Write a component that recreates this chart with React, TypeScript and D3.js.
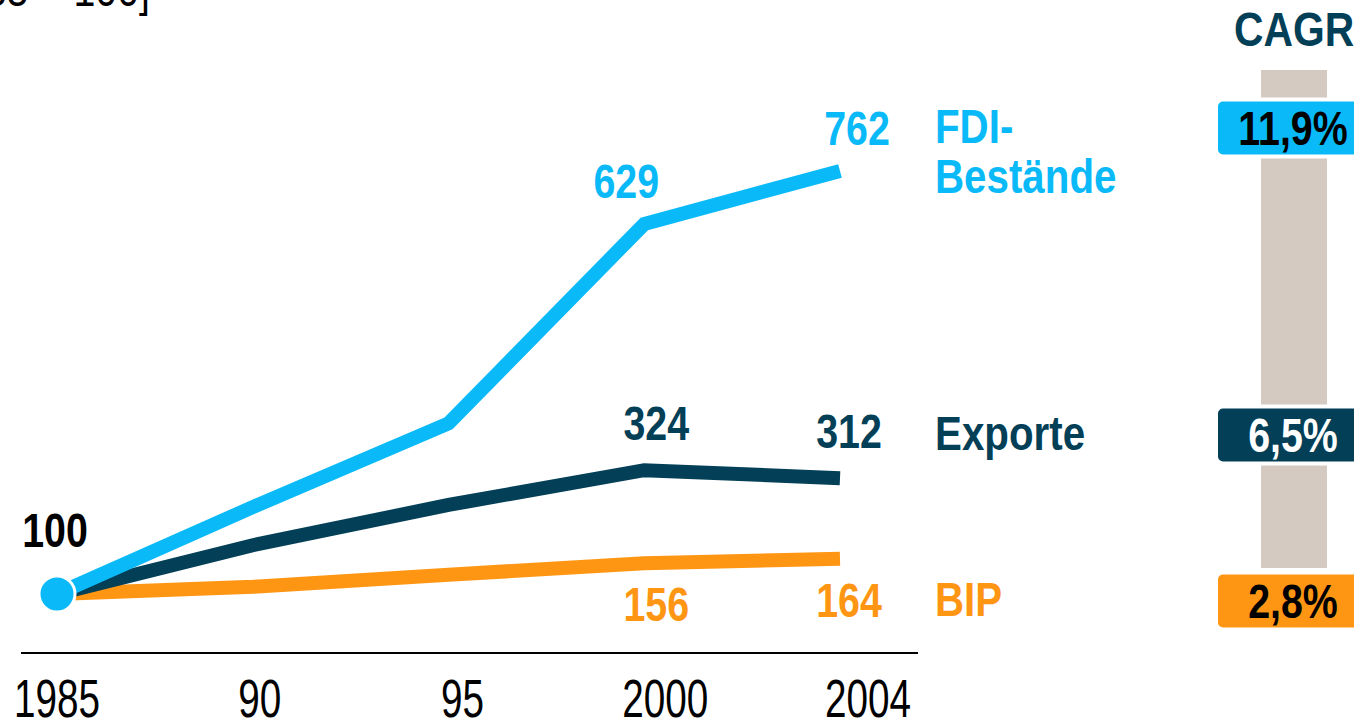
import React from "react";
import * as d3 from "d3";

// ---- data ----
const years = ["1985", "1990", "1995", "2000", "2004"];
const tickLabels = ["1985", "90", "95", "2000", "2004"];
const fdiValues = [100, 259, 382, 629, 762];
const exportValues = [100, 189, 263, 324, 312];
const bipValues = [100, 113, 135, 156, 164];
const seriesNames = ["FDI-\nBestände", "Exporte", "BIP"];
const cagrLabels = ["11,9%", "6,5%", "2,8%"];
const labelledYears = ["2000", "2004"];
const startValue = 100;
const titleText = "[1985 = 100]";
const cagrTitle = "CAGR";

const W = 1354;
const H = 723;
const FONT = "'Liberation Sans', Arial, sans-serif";

const colors = { fdi: "#0ABAF8", exp: "#033F57", bip: "#FE9614", bar: "#D5CAC2" };

type TxtProps = {
  x: number;
  y: number;
  sx?: number;
  size?: number;
  bold?: boolean;
  anchor?: "start" | "middle" | "end";
  fill?: string;
  children: React.ReactNode;
};

// condensed text: horizontally scaled around its anchor point
function Txt({ x, y, sx = 0.82, size = 48, bold = true, anchor = "start", fill = "#000", children }: TxtProps) {
  return (
    <text
      transform={`translate(${x},${y}) scale(${sx},1)`}
      fontSize={size}
      fontWeight={bold ? "bold" : "normal"}
      textAnchor={anchor}
      fill={fill}
    >
      {children}
    </text>
  );
}

export default function App() {
  // x scales: one for the lines, one for the axis labels
  const xLine = d3.scalePoint<string>().domain(years).range([57, 840]);
  const xTick = d3.scalePoint<string>().domain(years).range([57, 868]);
  // piecewise-linear (polylinear) value scale, as the original chart is not to scale
  const y = d3
    .scaleLinear()
    .domain([100, 160, 318, 629, 762])
    .range([594, 561, 475, 224, 171]);

  const line = d3
    .line<number>()
    .x((_, i) => xLine(years[i]) as number)
    .y((v) => y(v));

  const series = [
    { key: "bip", values: bipValues, color: colors.bip, name: seriesNames[2], cagr: cagrLabels[2], labelDy: 58, labelDx: [12, 9], rowY: 601, badgeText: "#000" },
    { key: "exp", values: exportValues, color: colors.exp, name: seriesNames[1], cagr: cagrLabels[1], labelDy: -30, labelDx: [12, 9], rowY: 435, badgeText: "#fff" },
    { key: "fdi", values: fdiValues, color: colors.fdi, name: seriesNames[0], cagr: cagrLabels[0], labelDy: -26, labelDx: [-18, 17], rowY: 128, badgeText: "#000" },
  ];

  const barX = 1261;
  const barW = 66;
  const badgeX = 1216;
  const badgeH = 57;

  return (
    <svg
      width={W}
      height={H}
      style={{ position: "absolute", left: 0, top: 0, background: "#fff" }}
      fontFamily={FONT}
    >
      {/* cropped title */}
      <Txt x={150} y={6} bold={false} anchor="end">
        {titleText}
      </Txt>

      {/* axis line */}
      <line x1={21} x2={918} y1={653} y2={653} stroke="#000" strokeWidth={2} />
      {years.map((yr, i) => (
        <Txt key={yr} x={xTick(yr) as number} y={717} size={53} sx={0.73} bold={false} anchor="middle">
          {tickLabels[i]}
        </Txt>
      ))}

      {/* lines */}
      {series.map((s) => (
        <path key={s.key} d={line(s.values) || ""} fill="none" stroke={s.color} strokeWidth={14} strokeLinejoin="miter" />
      ))}

      {/* start point */}
      <circle cx={xLine(years[0])} cy={y(startValue)} r={18} fill={colors.fdi} stroke="#fff" strokeWidth={3} />
      <Txt x={(xLine(years[0]) as number) - 2} y={y(startValue) - 47} anchor="middle">
        {startValue}
      </Txt>

      {/* value labels */}
      {series.map((s) =>
        labelledYears.map((yr, j) => {
          const i = years.indexOf(yr);
          return (
            <Txt
              key={s.key + yr}
              x={(xLine(yr) as number) + s.labelDx[j]}
              y={y(s.values[i]) + s.labelDy}
              anchor="middle"
              fill={s.color}
            >
              {s.values[i]}
            </Txt>
          );
        })
      )}

      {/* series names */}
      {series.map((s) => {
        const lines = s.name.split("\n");
        const lh = 50;
        const y0 = s.rowY + 15;
        return (
          <g key={"n" + s.key}>
            {lines.map((l, k) => (
              <Txt key={k} x={935} y={y0 + k * lh} sx={0.84} fill={s.color}>
                {l}
              </Txt>
            ))}
          </g>
        );
      })}

      {/* CAGR column */}
      <Txt x={1234} y={46} sx={0.85} fill={colors.exp}>
        {cagrTitle}
      </Txt>
      <rect x={barX} y={70} width={barW} height={498} fill={colors.bar} />
      {series.map((s) => (
        <g key={"b" + s.key}>
          <rect
            x={badgeX}
            y={s.rowY - badgeH / 2}
            width={170}
            height={badgeH}
            rx={7}
            fill={s.color}
            stroke="#fff"
            strokeWidth={4}
          />
          <Txt x={1293} y={s.rowY + 17} anchor="middle" fill={s.badgeText}>
            {s.cagr}
          </Txt>
        </g>
      ))}
    </svg>
  );
}
